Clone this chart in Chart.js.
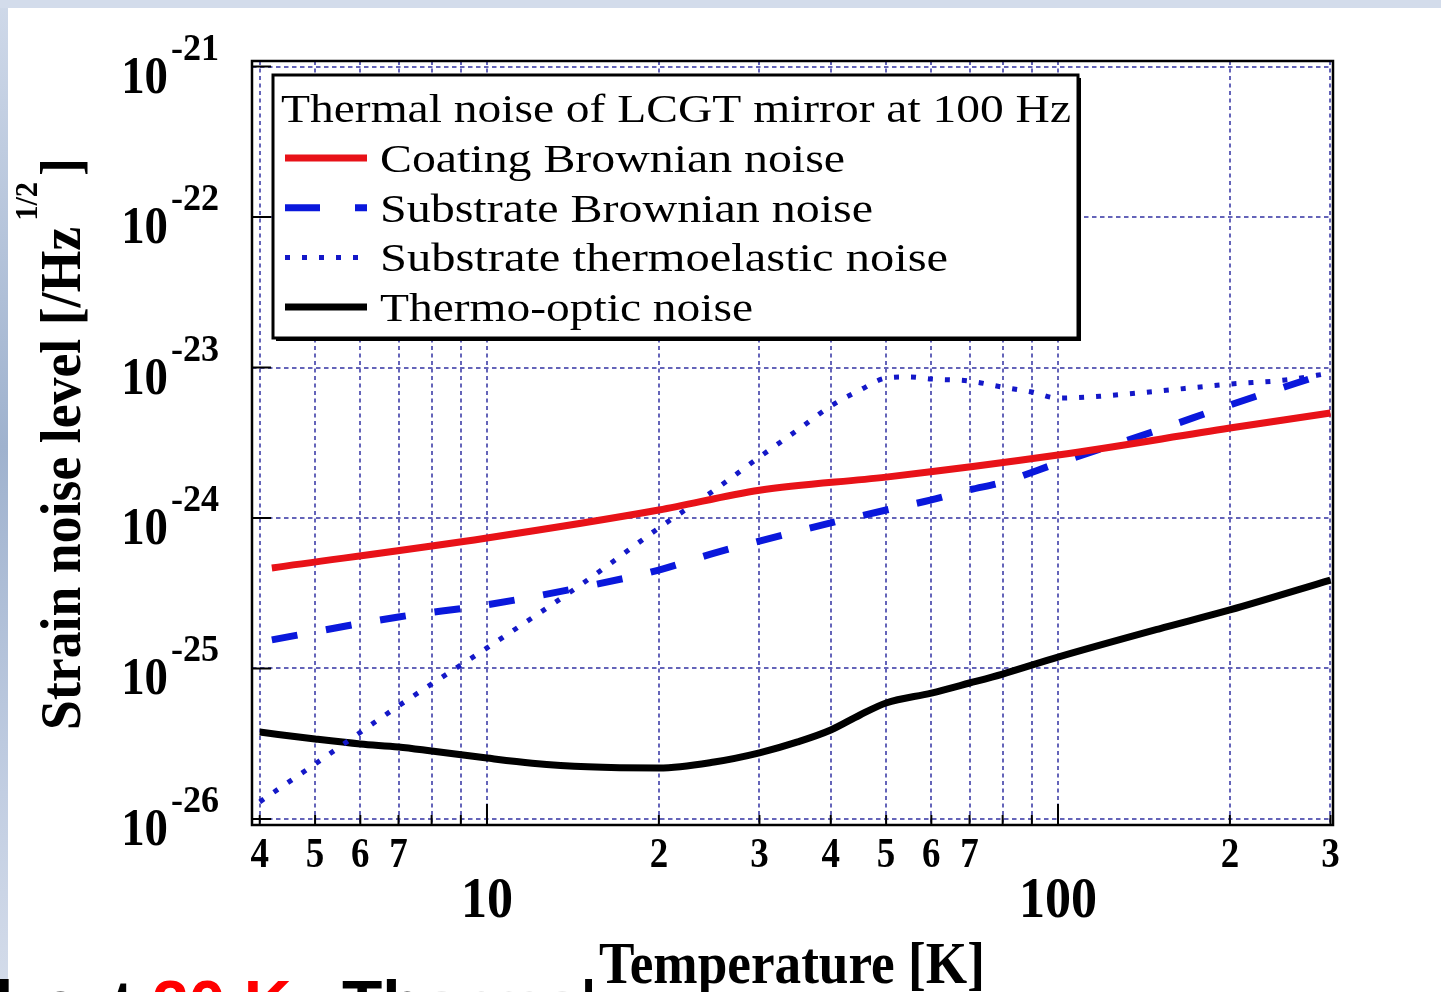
<!DOCTYPE html>
<html>
<head>
<meta charset="utf-8">
<title>Thermal noise of LCGT mirror at 100 Hz</title>
<script src="https://cdn.jsdelivr.net/npm/chart.js@4.4.1/dist/chart.umd.min.js"></script>
<style>
html, body { margin:0; padding:0; }
body { width:1441px; height:992px; overflow:hidden; position:relative; background:#fff; }
#edgeLeft { position:absolute; left:0; top:0; width:8px; height:992px;
  background:linear-gradient(#cfd9e9, #9fb2ce 45%, #c2cee2 80%, #d4dcea); }
#edgeTop { position:absolute; left:0; top:0; width:1441px; height:8px; background:#d3dceb; }
#slideText { position:absolute; left:0; top:971px; width:1441px; height:40px;
  font:bold 66px "Liberation Sans", Arial, sans-serif; line-height:1; white-space:nowrap; }
#slideText span { position:absolute; top:0; }
#myChart { position:absolute; left:0; top:0; }
</style>
</head>
<body>
<div id="edgeLeft"></div>
<div id="edgeTop"></div>
<div id="slideText">
  <span style="left:-5px">l</span>
  <span style="left:42px">a</span>
  <span style="left:112px">t</span>
  <span style="left:152px;color:#f00">20 K</span>
  <span style="left:342px">Thermal noise</span>
</div>
<canvas id="myChart" width="1441" height="992"></canvas>
<script>
// values, temperature in K, noise in 1/sqrt(Hz)
const coatingBrownianT = [4.2, 10, 20, 30, 50, 100, 200, 300];
const coatingBrownianNoise = [4.66e-25, 7.37e-25, 1.13e-24, 1.53e-24, 1.87e-24, 2.62e-24, 3.96e-24, 4.99e-24];

const substrateBrownianT = [4.2, 7, 10, 15, 20, 25, 30, 40, 50, 60, 70, 80, 100, 150, 200, 300];
const substrateBrownianNoise = [1.55e-25, 2.20e-25, 2.65e-25, 3.53e-25, 4.51e-25, 5.85e-25, 7.03e-25, 9.27e-25,
  1.13e-24, 1.32e-24, 1.54e-24, 1.73e-24, 2.32e-24, 3.85e-24, 5.64e-24, 9.33e-24];

const thermoelasticT = [4, 5, 7, 10, 15, 20, 25, 30, 35, 40, 45, 50, 55, 60, 70, 80, 90, 100, 120, 150, 200, 250, 300];
const thermoelasticNoise = [1.30e-26, 2.32e-26, 5.64e-26, 1.37e-25, 3.87e-25, 8.59e-25, 1.53e-24, 2.54e-24, 3.85e-24,
  5.55e-24, 7.08e-24, 8.51e-24, 8.65e-24, 8.39e-24, 8.13e-24, 7.41e-24, 6.87e-24, 6.26e-24, 6.47e-24, 6.98e-24,
  7.76e-24, 8.26e-24, 9.18e-24];

const thermoOpticT = [4, 5, 6, 7, 8, 10, 12, 15, 20, 25, 30, 35, 40, 45, 50, 60, 70, 80, 100, 150, 200, 300];
const thermoOpticNoise = [3.78e-26, 3.40e-26, 3.15e-26, 3.01e-26, 2.83e-26, 2.54e-26, 2.35e-26, 2.22e-26, 2.18e-26,
  2.39e-26, 2.75e-26, 3.25e-26, 3.90e-26, 4.91e-26, 5.90e-26, 6.87e-26, 8.01e-26, 9.19e-26, 1.19e-25, 1.83e-25,
  2.45e-25, 3.87e-25];

const seriesLabels = ["Coating Brownian noise", "Substrate Brownian noise", "Substrate thermoelastic noise", "Thermo-optic noise"];
const legendTitle = "Thermal noise of LCGT mirror at 100 Hz";

// axis ticks
const xGridValues = [4, 5, 6, 7, 8, 9, 10, 20, 30, 40, 50, 60, 70, 80, 90, 100, 200, 300];
const xMinorLabelValues = [4, 5, 6, 7, 20, 30, 40, 50, 60, 70, 200, 300];
const xMinorLabels = ["4", "5", "6", "7", "2", "3", "4", "5", "6", "7", "2", "3"];
const xMajorLabelValues = [10, 100];
const xMajorLabels = ["10", "100"];
const yDecades = [1e-26, 1e-25, 1e-24, 1e-23, 1e-22, 1e-21];
const yExponents = ["-26", "-25", "-24", "-23", "-22", "-21"];

const SERIF = '"Liberation Serif", "Times New Roman", serif';
const GRID_COLOR = "rgb(100, 100, 185)";

function toPoints(xs, ys) {
  return xs.map((x, i) => ({x: x, y: ys[i]}));
}

// draws text squeezed (or stretched) horizontally
function drawText(ctx, text, x, y, font, align, squeeze, fitWidth) {
  ctx.save();
  ctx.font = font;
  let w0 = ctx.measureText(text).width;
  let sx = fitWidth ? fitWidth / w0 : squeeze;
  let w = w0 * sx;
  let x0 = x;
  if (align == "center") x0 = x - w / 2;
  else if (align == "right") x0 = x - w;
  ctx.translate(x0, y);
  ctx.scale(sx, 1);
  ctx.textAlign = "left";
  ctx.textBaseline = "alphabetic";
  ctx.fillStyle = "#000";
  ctx.fillText(text, 0, 0);
  ctx.restore();
  return w;
}

const paperPlugin = {
  id: "paper",
  beforeDraw(chart) {
    const ctx = chart.ctx;
    ctx.save();
    ctx.fillStyle = "#fff";
    ctx.fillRect(8, 8, 1433, 970);
    ctx.fillRect(592, 930, 410, 62);
    ctx.fillStyle = "rgba(255,255,255,0.82)";
    ctx.fillRect(428, 965, 148, 27);
    ctx.restore();
  }
};

const axesPlugin = {
  id: "axesDecor",
  afterDraw(chart) {
    const ctx = chart.ctx;
    const a = chart.chartArea;
    const xs = chart.scales.x, ys = chart.scales.y;

    ctx.save();
    // frame
    ctx.strokeStyle = "#000";
    ctx.lineWidth = 2.5;
    ctx.strokeRect(a.left, a.top, a.right - a.left, a.bottom - a.top);

    // inward tick marks
    ctx.lineWidth = 2;
    ctx.beginPath();
    yDecades.forEach(v => {
      let py = ys.getPixelForValue(v);
      ctx.moveTo(a.left, py); ctx.lineTo(a.left + 19, py);
    });
    xGridValues.forEach(v => {
      let px = xs.getPixelForValue(v);
      let len = xMajorLabelValues.includes(v) ? 21 : 10;
      ctx.moveTo(px, a.bottom); ctx.lineTo(px, a.bottom - len);
    });
    ctx.stroke();

    // y tick labels 10^n
    yDecades.forEach((v, i) => {
      let py = ys.getPixelForValue(v);
      drawText(ctx, "10", 168, py + 26, "bold 52px " + SERIF, "right", 0.9);
      drawText(ctx, yExponents[i], 171, py - 7, "bold 38px " + SERIF, "left", 0.95);
    });

    // x tick labels
    xMinorLabelValues.forEach((v, i) => {
      drawText(ctx, xMinorLabels[i], xs.getPixelForValue(v), 867, "bold 42px " + SERIF, "center", 0.88);
    });
    xMajorLabelValues.forEach((v, i) => {
      drawText(ctx, xMajorLabels[i], xs.getPixelForValue(v), 917, "bold 56px " + SERIF, "center", 0.93);
    });

    // axis titles
    drawText(ctx, "Temperature [K]", 792, 983, "bold 60px " + SERIF, "center", 0.887);

    ctx.save();
    ctx.translate(80, 730);
    ctx.rotate(-Math.PI / 2);
    let w = drawText(ctx, "Strain noise level [/Hz", 0, 0, "bold 56px " + SERIF, "left", 0.96);
    let w2 = drawText(ctx, "1/2", w + 6, -43, "bold 32px " + SERIF, "left", 0.95);
    drawText(ctx, "]", w + 6 + w2 + 6, 0, "bold 56px " + SERIF, "left", 0.96);
    ctx.restore();

    // legend box
    ctx.fillStyle = "#000";
    ctx.fillRect(276, 78, 805, 263);
    ctx.fillStyle = "#fff";
    ctx.fillRect(273, 75, 805, 263);
    ctx.strokeStyle = "#000";
    ctx.lineWidth = 3;
    ctx.strokeRect(273, 75, 805, 263);

    drawText(ctx, legendTitle, 281, 122, "40px " + SERIF, "left", 1, 790);
    const itemWidths = [465, 493, 568, 373];
    chart.data.datasets.forEach((ds, i) => {
      let yy = 158 + i * 49.7;
      ctx.save();
      ctx.strokeStyle = ds.borderColor;
      ctx.lineWidth = ds.borderWidth;
      ctx.setLineDash(ds.legendDash || []);
      ctx.beginPath();
      ctx.moveTo(285, yy);
      ctx.lineTo(ds.legendDash && ds.legendDash[0] < 10 ? 360 : 367, yy);
      ctx.stroke();
      ctx.restore();
      drawText(ctx, ds.label, 380, yy + 14, "40px " + SERIF, "left", 1, itemWidths[i]);
    });
    ctx.restore();
  }
};

const data = {
  datasets: [
    {
      label: seriesLabels[0],
      data: toPoints(coatingBrownianT, coatingBrownianNoise),
      borderColor: "rgb(232, 18, 24)",
      borderWidth: 7
    },
    {
      label: seriesLabels[1],
      data: toPoints(substrateBrownianT, substrateBrownianNoise),
      borderColor: "rgb(10, 24, 220)",
      borderWidth: 7,
      borderDash: [26, 29],
      legendDash: [35, 35]
    },
    {
      label: seriesLabels[2],
      data: toPoints(thermoelasticT, thermoelasticNoise),
      borderColor: "rgb(20, 24, 200)",
      borderWidth: 5,
      borderDash: [5, 12],
      legendDash: [5, 12]
    },
    {
      label: seriesLabels[3],
      data: toPoints(thermoOpticT, thermoOpticNoise),
      borderColor: "#000",
      borderWidth: 7
    }
  ]
};

const config = {
  type: "scatter",
  data: data,
  options: {
    responsive: false,
    animation: false,
    layout: { padding: { left: 252, right: 108, top: 61, bottom: 167 } },
    datasets: {
      scatter: {
        showLine: true,
        pointRadius: 0,
        fill: false,
        cubicInterpolationMode: "monotone"
      }
    },
    plugins: {
      legend: { display: false },
      tooltip: { enabled: false }
    },
    scales: {
      x: {
        type: "logarithmic",
        min: 3.877,
        max: 303.1,
        afterBuildTicks: s => { s.ticks = xGridValues.map(v => ({value: v})); },
        ticks: { display: false },
        grid: { color: GRID_COLOR, lineWidth: 2, drawTicks: false },
        border: { display: false, dash: [4, 3.5] }
      },
      y: {
        type: "logarithmic",
        min: 9.12e-27,
        max: 1.089e-21,
        afterBuildTicks: s => { s.ticks = yDecades.map(v => ({value: v})); },
        ticks: { display: false },
        grid: { color: GRID_COLOR, lineWidth: 2, drawTicks: false },
        border: { display: false, dash: [4.5, 3.5] }
      }
    }
  },
  plugins: [paperPlugin, axesPlugin]
};

const myChart = new Chart(document.getElementById("myChart"), config);
</script>
</body>
</html>
